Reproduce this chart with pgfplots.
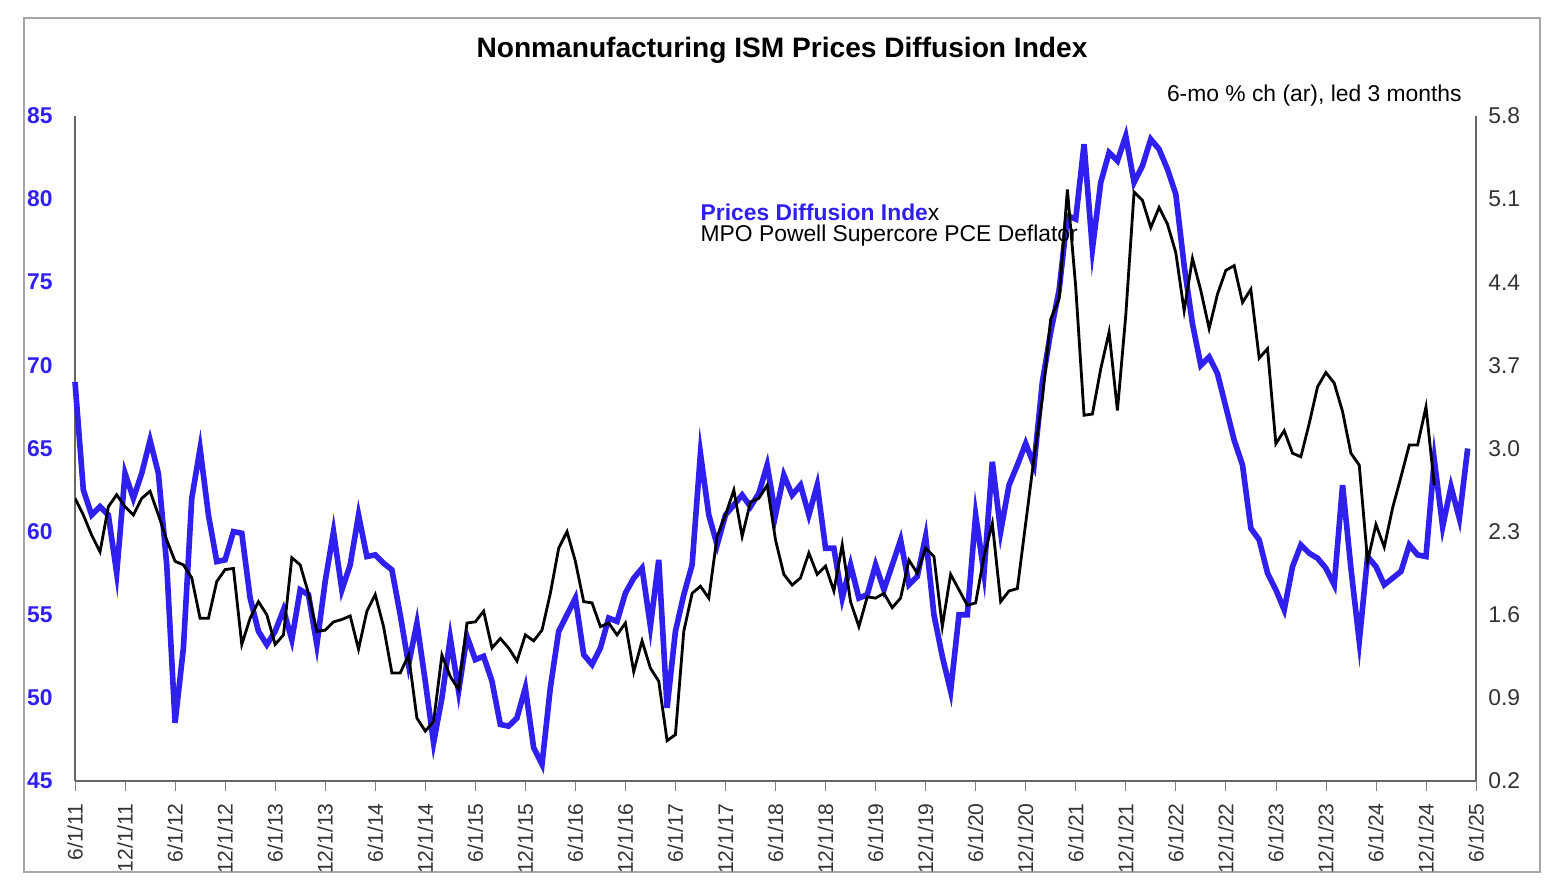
\documentclass[border=0pt]{standalone}
\usepackage{pgfplots}
\pgfplotsset{compat=1.18}
\usepackage{fontspec}
\setmainfont{Liberation Sans}
\definecolor{pblue}{RGB}{48,32,240}
\begin{document}
\begin{tikzpicture}[x=1mm,y=1mm]
\path (-7.5,-11.5) rectangle (148.9,78.1);
\draw[black!35, line width=0.3pt] (-5.1,-9.1) rectangle (146.5,76.3);
\begin{axis}[at={(0,0)},anchor=south west,scale only axis,width=140.1mm,height=66.5mm,
 xmin=0,xmax=168,ymin=45,ymax=85,ytick={45,50,...,85},
 xtick={0,6,...,168},
 xticklabels={6/1/11,12/1/11,6/1/12,12/1/12,6/1/13,12/1/13,6/1/14,12/1/14,6/1/15,12/1/15,6/1/16,12/1/16,6/1/17,12/1/17,6/1/18,12/1/18,6/1/19,12/1/19,6/1/20,12/1/20,6/1/21,12/1/21,6/1/22,12/1/22,6/1/23,12/1/23,6/1/24,12/1/24,6/1/25},
 x tick label style={rotate=90,anchor=east,font=\fontsize{6}{7}\selectfont,text=black!80},
 y tick label style={font=\fontsize{6.5}{7}\selectfont\bfseries,text=pblue},
 /pgf/number format/assume math mode=true,
 axis y line*=left, axis x line*=bottom,
 xtick pos=bottom, tick align=outside, major tick length=1mm, ytick style={draw=none},
 axis line style={black!60}, clip=false]
\addplot[pblue, line width=1.6pt] coordinates {
(0,69)(1,62.5)(2,61)(3,61.5)(4,61)(5,57.5)(6,63.5)(7,62)(8,63.5)(9,65.5)(10,63.5)(11,58)
(12,48.5)(13,53)(14,62)(15,65)(16,61)(17,58.2)(18,58.3)(19,60)(20,59.9)(21,56)(22,54)(23,53.2)
(24,54)(25,55.3)(26,53.5)(27,56.5)(28,56.2)(29,53.2)(30,57)(31,60)(32,56.5)(33,58)(34,61)(35,58.5)
(36,58.6)(37,58.1)(38,57.7)(39,55)(40,52)(41,54.5)(42,51)(43,47.3)(44,50)(45,53.6)(46,50.4)(47,53.7)
(48,52.3)(49,52.5)(50,51)(51,48.4)(52,48.3)(53,48.8)(54,50.6)(55,47)(56,46)(57,50.6)(58,54)(59,55)
(60,56)(61,52.6)(62,52)(63,53)(64,54.8)(65,54.6)(66,56.3)(67,57.2)(68,57.8)(69,54.3)(70,58.3)(71,49.4)
(72,54)(73,56.2)(74,58)(75,64.7)(76,61)(77,59.2)(78,61)(79,61.6)(80,62.2)(81,61.5)(82,62.3)(83,64)
(84,61)(85,63.4)(86,62.2)(87,62.8)(88,61)(89,62.8)(90,59)(91,59)(92,56)(93,58)(94,56)(95,56.2)
(96,58)(97,56.5)(98,58)(99,59.5)(100,56.8)(101,57.3)(102,59.7)(103,55)(104,52.5)(105,50.4)(106,55)(107,55)
(108,61)(109,57.5)(110,64.2)(111,60)(112,62.8)(113,64)(114,65.3)(115,64)(116,69)(117,72)(118,74.5)(119,79)
(120,78.8)(121,83.3)(122,77)(123,81)(124,82.8)(125,82.3)(126,83.8)(127,81)(128,82)(129,83.6)(130,83)(131,81.8)
(132,80.3)(133,76)(134,72.5)(135,70)(136,70.5)(137,69.5)(138,67.5)(139,65.5)(140,64)(141,60.2)(142,59.5)(143,57.5)
(144,56.5)(145,55.3)(146,57.9)(147,59.2)(148,58.7)(149,58.4)(150,57.8)(151,56.8)(152,62.8)(153,57.8)(154,53.4)(155,58.5)
(156,57.9)(157,56.8)(158,57.2)(159,57.6)(160,59.2)(161,58.6)(162,58.5)(163,64.3)(164,60.3)(165,62.7)(166,60.8)(167,65)
};
\end{axis}
\begin{axis}[at={(0,0)},anchor=south west,scale only axis,width=140.1mm,height=66.5mm,
 xmin=0,xmax=168,ymin=0.2,ymax=5.8,ytick={0.2,0.9,...,5.8},
 axis y line*=right, axis x line=none,
 ytick style={draw=none},
 /pgf/number format/fixed, /pgf/number format/fixed zerofill, /pgf/number format/precision=1,
 y tick label style={font=\fontsize{6.5}{7}\selectfont,text=black!80},
 /pgf/number format/assume math mode=true,
 axis line style={black!60}]
\addplot[black, line width=0.8pt] coordinates {
(0,2.58)(1,2.44)(2,2.27)(3,2.13)(4,2.51)(5,2.61)(6,2.51)(7,2.44)(8,2.58)(9,2.64)(10,2.44)(11,2.23)
(12,2.05)(13,2.02)(14,1.91)(15,1.57)(16,1.57)(17,1.88)(18,1.98)(19,1.99)(20,1.35)(21,1.57)(22,1.71)(23,1.60)
(24,1.35)(25,1.43)(26,2.08)(27,2.02)(28,1.78)(29,1.46)(30,1.47)(31,1.54)(32,1.56)(33,1.59)(34,1.31)(35,1.63)
(36,1.77)(37,1.50)(38,1.11)(39,1.11)(40,1.26)(41,0.73)(42,0.62)(43,0.70)(44,1.26)(45,1.08)(46,0.97)(47,1.53)
(48,1.54)(49,1.63)(50,1.32)(51,1.40)(52,1.32)(53,1.21)(54,1.43)(55,1.38)(56,1.47)(57,1.78)(58,2.16)(59,2.30)
(60,2.05)(61,1.71)(62,1.70)(63,1.50)(64,1.53)(65,1.43)(66,1.53)(67,1.12)(68,1.38)(69,1.15)(70,1.04)(71,0.54)
(72,0.59)(73,1.46)(74,1.78)(75,1.84)(76,1.74)(77,2.26)(78,2.44)(79,2.65)(80,2.26)(81,2.55)(82,2.58)(83,2.69)
(84,2.23)(85,1.94)(86,1.85)(87,1.91)(88,2.12)(89,1.94)(90,2.01)(91,1.80)(92,2.19)(93,1.71)(94,1.50)(95,1.75)
(96,1.74)(97,1.78)(98,1.66)(99,1.74)(100,2.06)(101,1.95)(102,2.16)(103,2.09)(104,1.50)(105,1.94)(106,1.81)(107,1.68)
(108,1.70)(109,2.09)(110,2.37)(111,1.71)(112,1.80)(113,1.82)(114,2.37)(115,2.92)(116,3.42)(117,4.09)(118,4.26)(119,5.18)
(120,4.36)(121,3.28)(122,3.29)(123,3.67)(124,3.98)(125,3.32)(126,4.12)(127,5.16)(128,5.09)(129,4.86)(130,5.03)(131,4.89)
(132,4.65)(133,4.16)(134,4.60)(135,4.33)(136,4.01)(137,4.30)(138,4.50)(139,4.54)(140,4.23)(141,4.34)(142,3.76)(143,3.84)
(144,3.04)(145,3.15)(146,2.96)(147,2.93)(148,3.21)(149,3.52)(150,3.64)(151,3.55)(152,3.31)(153,2.96)(154,2.86)(155,2.05)
(156,2.36)(157,2.17)(158,2.50)(159,2.76)(160,3.03)(161,3.03)(162,3.35)(163,2.69)
};
\end{axis}
\node[font=\fontsize{8}{9}\selectfont\bfseries] at (70.7,73.1) {Nonmanufacturing ISM Prices Diffusion Index};
\node[anchor=east,font=\fontsize{6.5}{7}\selectfont] at (139.9,68.5) {6-mo \% ch (ar), led 3 months};
\node[anchor=west,font=\fontsize{6.5}{7}\selectfont,inner sep=0] at (62.5,56.9) {\textcolor{pblue}{\bfseries Prices Diffusion Inde}x};
\node[anchor=west,font=\fontsize{6.5}{7}\selectfont,inner sep=0] at (62.5,54.5) {MPO Powell Supercore PCE Deflator};
\end{tikzpicture}
\end{document}
